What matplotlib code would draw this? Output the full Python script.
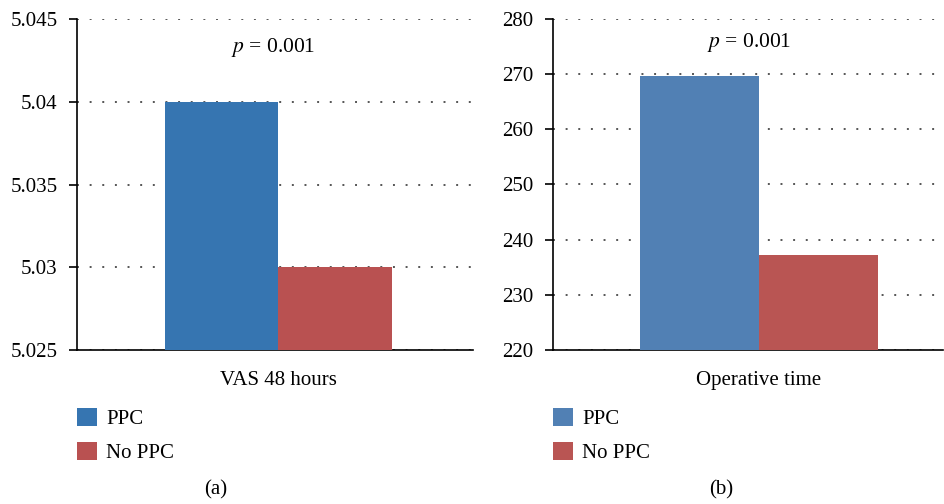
import matplotlib.pyplot as plt
from matplotlib.ticker import FuncFormatter
import numpy as np

plt.rcParams['font.family'] = ['Liberation Serif', 'DejaVu Serif']
plt.rcParams['mathtext.fontset'] = 'stix'

# data
groups = ['PPC', 'No PPC']
vas_label = 'VAS 48 hours'
vas_values = [5.04, 5.03]
vas_ticks = [5.025, 5.03, 5.035, 5.04, 5.045]
op_label = 'Operative time'
op_values = [269.7, 237.2]
op_ticks = [220, 230, 240, 250, 260, 270, 280]
p_text = r'$p$ = 0.001'

W, H = 944, 504
FS = 15
fig = plt.figure(figsize=(W / 100, H / 100), dpi=100)


def px_axes(left, bottom, right, top):
	return fig.add_axes([left / W, 1 - bottom / H, (right - left) / W, (bottom - top) / H])


def draw_panel(ax, label, values, ticks, colors, width, center, p_pos, tag, tag_x, leg_x):
	xs = [center - width / 2, center + width / 2]
	bars = []
	for x, v, c, g in zip(xs, values, colors, groups):
		bars.append(ax.bar(x, v - ticks[0], width, bottom=ticks[0], color=c, label=g, zorder=3))
	ax.set_xlim(-0.5, 0.5)
	ax.set_ylim(ticks[0], ticks[-1])
	ax.set_yticks(ticks)
	ax.yaxis.set_major_formatter(FuncFormatter(lambda v, pos: '{:g}'.format(round(v, 6))))
	ax.yaxis.grid(True, linestyle=(0, (1, 5.5)), color='#555555', lw=1.4, zorder=1)
	ax.set_xticks([center])
	ax.set_xticklabels([label], fontsize=FS)
	ax.tick_params(axis='x', length=0, pad=15)
	ax.tick_params(axis='y', direction='out', length=6, width=1.2, labelsize=FS, pad=8)
	for s in ['top', 'right']:
		ax.spines[s].set_visible(False)
	for s in ['left', 'bottom']:
		ax.spines[s].set_linewidth(1.2)
	ax.text(p_pos[0], p_pos[1], p_text, ha='center', va='center', fontsize=FS + 0.5)
	fig.text(tag_x / W, 1 - 490 / H, tag, ha='center', va='center', fontsize=FS)
	fig.legend(handles=[b[0] for b in bars], labels=groups, loc='upper left',
		bbox_to_anchor=(leg_x / W, 1 - 408 / H), frameon=False, fontsize=FS,
		handlelength=0.95, handleheight=0.95, handletextpad=0.45, labelspacing=0.6,
		borderpad=0, borderaxespad=0)


ax1 = px_axes(77, 350, 473, 19)
draw_panel(ax1, vas_label, vas_values, vas_ticks, ['#3675B1', '#B95151'],
	0.287, 0.008, (-0.005, 5.04325), '(a)', 216, 77)

ax2 = px_axes(553, 350, 943, 19)
draw_panel(ax2, op_label, op_values, op_ticks, ['#5180B4', '#B95553'],
	0.305, 0.028, (0.003, 275.8), '(b)', 721, 553)

fig.savefig('out.png', dpi=100)
